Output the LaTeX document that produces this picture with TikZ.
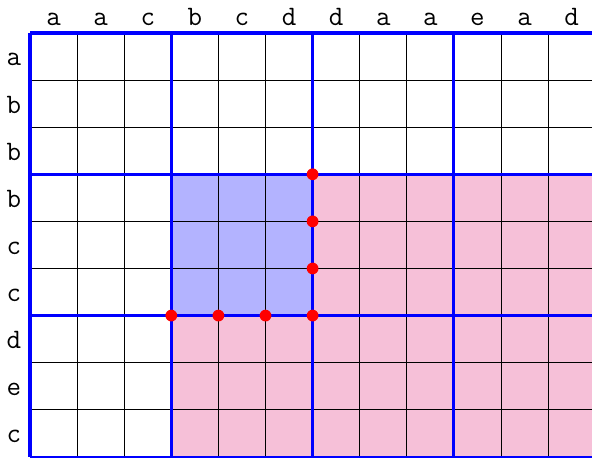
\documentclass[tikz,border=0pt]{standalone}
\usepackage{tikz}
\definecolor{pinkfill}{RGB}{246,192,216}
\definecolor{bluefill}{RGB}{179,179,255}
\begin{document}
\begin{tikzpicture}[x=1cm,y=-1cm,
  gridline/.style={black,line width=0.55pt},
  blockline/.style={blue,line width=1.9pt},
  dotnode/.style={circle,fill=red,inner sep=0pt,minimum size=0.25cm},
  lab/.style={font=\ttfamily\fontsize{17}{19}\selectfont,inner sep=0pt,anchor=base}]
\useasboundingbox (-0.637,-0.70) rectangle (11.932,9.023);
% fills
\fill[pinkfill] (6,3) rectangle (12,9);
\fill[pinkfill] (3,6) rectangle (6,9);
\fill[bluefill] (3,3) rectangle (6,6);
% thin grid
\foreach \i in {1,...,11} \draw[gridline] (\i,0) -- (\i,9);
\foreach \j in {1,...,8} \draw[gridline] (0,\j) -- (12,\j);
% block lines
\foreach \i in {0,3,6,9,12} \draw[blockline] (\i,0) -- (\i,9);
\foreach \j in {0,3,6} \draw[blockline] (0,\j) -- (12,\j);
\draw[blue,line width=1.2pt] (0,9) -- (12,9);
% labels top
\foreach \t [count=\k from 0] in {a,a,c,b,c,d,d,a,a,e,a,d}
  \node[lab] (top\k) at (\k+0.5,-0.15) {\t};
% labels left
\foreach \t [count=\k from 0] in {a,b,b,b,c,c,d,e,c}
  \node[lab] (left\k) at (-0.34,\k+0.7) {\t};
% red dots
\node[dotnode] (p1) at (6,3) {};
\node[dotnode] (p2) at (6,4) {};
\node[dotnode] (p3) at (6,5) {};
\node[dotnode] (p4) at (6,6) {};
\node[dotnode] (p5) at (3,6) {};
\node[dotnode] (p6) at (4,6) {};
\node[dotnode] (p7) at (5,6) {};
\end{tikzpicture}
\end{document}
